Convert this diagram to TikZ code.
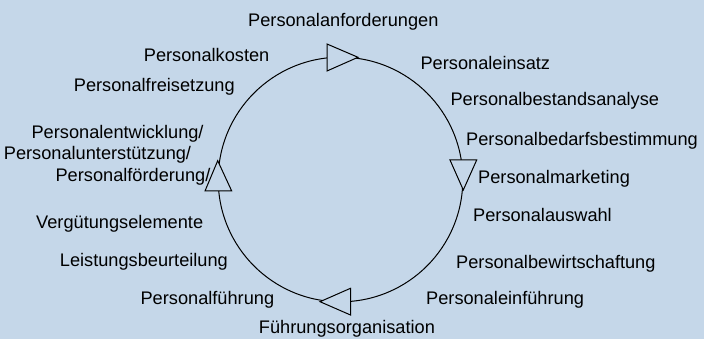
\documentclass[tikz,border=0pt]{standalone}
\usepackage{fontspec}
\setmainfont{Liberation Sans}
\definecolor{bg}{RGB}{197,215,233}
\begin{document}
\begin{tikzpicture}[x=1pt,y=1pt,
  lbl/.style={anchor=base west, inner sep=0pt, text=black,
              font=\fontsize{18.2}{21.7}\selectfont},
  ring/.style={line width=1pt},
  arrowtri/.style={line width=1pt, fill=bg, line join=miter}]
% background
\fill[bg] (0,0) rectangle (704,339);
\useasboundingbox (0,0) rectangle (704,339);

% the cycle
\coordinate (c) at (340.5,159.5);
\draw[ring] (c) circle (122.3);

% open triangles marking the clockwise direction
\draw[arrowtri] (327,268) -- (327,295) -- (358,281.7) -- cycle;
\draw[arrowtri] (450,179) -- (476.7,179) -- (463.3,149) -- cycle;
\draw[arrowtri] (350.5,50.7) -- (350.5,24) -- (320,37.3) -- cycle;
\draw[arrowtri] (205,148) -- (231.7,148) -- (217.7,178.3) -- cycle;

% labels round the cycle
\node[lbl] (anf)  at (248.0,312.3) {Personalanforderungen};
\node[lbl] (kost) at (143.7,277.3) {Personalkosten};
\node[lbl] (eins) at (420.4,269.0) {Personaleinsatz};
\node[lbl] (frei) at (73.7,247.3)  {Personalfreisetzung};
\node[lbl] (best) at (450.4,233.0) {Personalbestandsanalyse};
\node[lbl] (bed)  at (466.0,193.0) {Personalbedarfsbestimmung};
\node[lbl] (pe1)  at (31.4,200.7)  {Personalentwicklung/};
\node[lbl] (pe2)  at (3.7,179.0)   {Personalunterstützung/};
\node[lbl] (pe3)  at (55.4,157.3)  {Personalförderung/};
\node[lbl] (mark) at (478.0,155.7) {Personalmarketing};
\node[lbl] (ausw) at (473.0,117.3) {Personalauswahl};
\node[lbl] (verg) at (36.0,110.0)  {Vergütungselemente};
\node[lbl] (bew)  at (456.0,70.7)  {Personalbewirtschaftung};
\node[lbl] (leis) at (59.7,72.3)   {Leistungsbeurteilung};
\node[lbl] (fue)  at (140.4,34.0)  {Personalführung};
\node[lbl] (einf) at (426.0,34.0)  {Personaleinführung};
\node[lbl] (org)  at (258.7,5.7)   {Führungsorganisation};
\end{tikzpicture}
\end{document}
